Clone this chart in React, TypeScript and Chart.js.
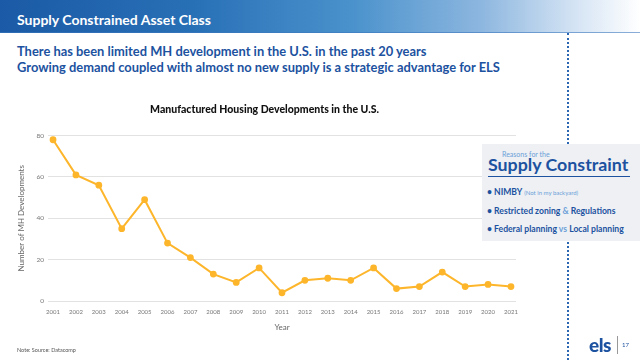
import React, { useEffect, useRef } from "react";
import { Chart, registerables } from "chart.js";

Chart.register(...registerables);

const years = [2001, 2002, 2003, 2004, 2005, 2006, 2007, 2008, 2009, 2010, 2011, 2012, 2013, 2014, 2015, 2016, 2017, 2018, 2019, 2020, 2021];
const developments = [78, 61, 56, 35, 49, 28, 21, 13, 9, 16, 4, 10, 11, 10, 16, 6, 7, 14, 7, 8, 7];
const yTicks = [0, 20, 40, 60, 80];

const chartTitle = "Manufactured Housing Developments in the U.S.";
const xTitle = "Year";
const yTitle = "Number of MH Developments";

const FONT = "Lato, 'Open Sans', sans-serif";
const BLUE = "#1c52a0";
const LIGHT_BLUE = "#6b9fd8";

function App() {
  const ref = useRef<HTMLCanvasElement | null>(null);

  useEffect(() => {
    if (!ref.current) return;
    const chart = new Chart(ref.current, {
      type: "line",
      data: {
        datasets: [
          {
            label: "Developments",
            data: years.map((y, i) => ({ x: y, y: developments[i] })),
            borderColor: "#fdb62b",
            backgroundColor: "#fdb62b",
            pointBackgroundColor: "#fdb62b",
            pointBorderColor: "#fdb62b",
            borderWidth: 2,
            pointRadius: 2.4,
            tension: 0,
          },
        ],
      },
      options: {
        animation: false,
        responsive: false,
        maintainAspectRatio: false,
        layout: { padding: { left: 13, right: 124, top: 90, bottom: 24 } },
        plugins: {
          legend: { display: false },
          tooltip: { enabled: false },
          title: {
            display: true,
            text: chartTitle,
            color: "#111",
            font: { family: FONT, size: 10.5, weight: "900" },
            padding: { top: 13, bottom: 20 },
          },
        },
        scales: {
          x: {
            type: "linear",
            min: 2000.78,
            max: 2021.22,
            afterBuildTicks: (scale: any) => {
              scale.ticks = years.map((v) => ({ value: v }));
            },
            afterFit: (scale: any) => {
              scale.height = 35;
            },
            grid: { display: false, drawTicks: false },
            border: { display: false },
            ticks: {
              autoSkip: false,
              maxRotation: 0,
              padding: 7,
              color: "#777",
              font: { family: FONT, size: 6 },
              callback: (v: any) => String(v),
            },
            title: {
              display: true,
              text: xTitle,
              color: "#666",
              font: { family: FONT, size: 8 },
              padding: { top: 4, bottom: 4 },
            },
          },
          y: {
            min: 0,
            max: 80,
            afterBuildTicks: (scale: any) => {
              scale.ticks = yTicks.map((v) => ({ value: v }));
            },
            afterFit: (scale: any) => {
              scale.width = 35;
            },
            grid: { color: "#e2e2e2", lineWidth: 1, drawTicks: false },
            border: { display: false },
            ticks: {
              padding: 4,
              color: "#777",
              font: { family: FONT, size: 6.5 },
            },
            title: {
              display: true,
              text: yTitle,
              color: "#666",
              font: { family: FONT, size: 8 },
              padding: { top: 4, bottom: 4 },
            },
          },
        },
      },
    } as any);
    return () => chart.destroy();
  }, []);

  return (
    <div
      style={{
        position: "fixed",
        left: 0,
        top: 0,
        width: 640,
        height: 360,
        background: "#fff",
        overflow: "hidden",
        fontFamily: FONT,
      }}
    >
      <div
        style={{
          position: "absolute",
          left: 0,
          top: 0,
          width: 640,
          height: 33,
          background:
            "linear-gradient(to right, #1b5aa6 0%, #2870b6 30%, #4a92cc 55%, #8cb6df 75%, #d5e4f4 90%, #ffffff 100%)",
          borderBottom: "1px solid rgba(60,120,190,0.6)",
          boxSizing: "border-box",
        }}
      />
      <div
        style={{
          position: "absolute",
          left: 17,
          top: 10,
          color: "#fff",
          fontWeight: 700,
          fontSize: 14,
          lineHeight: "20px",
          whiteSpace: "nowrap",
        }}
      >
        Supply Constrained Asset Class
      </div>
      <div
        style={{
          position: "absolute",
          left: 17,
          top: 44,
          color: BLUE,
          fontWeight: 700,
          fontSize: 12.9,
          lineHeight: "15.5px",
          whiteSpace: "nowrap",
        }}
      >
        <div>There has been limited MH development in the U.S. in the past 20 years</div>
        <div>Growing demand coupled with almost no new supply is a strategic advantage for ELS</div>
      </div>
      <div
        style={{
          position: "absolute",
          left: 567,
          top: 33,
          height: 327,
          width: 0,
          borderLeft: "2px dotted #2a66b2",
        }}
      />
      <canvas
        ref={ref}
        width={640}
        height={360}
        style={{ position: "absolute", left: 0, top: 0, width: 640, height: 360 }}
      />
      <div
        style={{
          position: "absolute",
          left: 482,
          top: 144,
          width: 158,
          height: 97,
          background: "#eef0f4",
        }}
      >
        <div
          style={{
            position: "absolute",
            left: 20,
            top: 6,
            fontSize: 7,
            color: LIGHT_BLUE,
            whiteSpace: "nowrap",
          }}
        >
          Reasons for the
        </div>
        <div
          style={{
            position: "absolute",
            left: 6,
            top: 9,
            fontSize: 17.8,
            fontWeight: 700,
            color: BLUE,
            whiteSpace: "nowrap",
            lineHeight: "22px",
          }}
        >
          Supply Constraint
        </div>
        <div
          style={{
            position: "absolute",
            left: 6,
            top: 32,
            width: 142,
            height: 0,
            borderTop: "1px solid " + BLUE,
          }}
        />
        <div
          style={{
            position: "absolute",
            left: 5,
            top: 39,
            fontSize: 8.6,
            fontWeight: 700,
            color: BLUE,
            whiteSpace: "nowrap",
            lineHeight: "18px",
          }}
        >
          <div>
            • NIMBY <span style={{ fontWeight: 400, fontSize: 6, color: LIGHT_BLUE }}>(Not in my backyard)</span>
          </div>
          <div>
            • Restricted zoning <span style={{ color: LIGHT_BLUE }}>&amp;</span> Regulations
          </div>
          <div>
            • Federal planning <span style={{ color: LIGHT_BLUE }}>vs</span> Local planning
          </div>
        </div>
      </div>
      <div
        style={{
          position: "absolute",
          left: 17,
          top: 347,
          fontSize: 5.5,
          color: "#555",
          whiteSpace: "nowrap",
        }}
      >
        Note: Source: Datacomp
      </div>
      <div
        style={{
          position: "absolute",
          left: 589,
          top: 334,
          fontSize: 19,
          fontWeight: 900,
          color: BLUE,
          lineHeight: "22px",
          letterSpacing: -0.5,
        }}
      >
        els
      </div>
      <div
        style={{
          position: "absolute",
          left: 617,
          top: 336,
          width: 1,
          height: 18,
          background: "#999",
        }}
      />
      <div
        style={{
          position: "absolute",
          left: 622,
          top: 341,
          fontSize: 6,
          color: BLUE,
        }}
      >
        17
      </div>
    </div>
  );
}

export default App;
